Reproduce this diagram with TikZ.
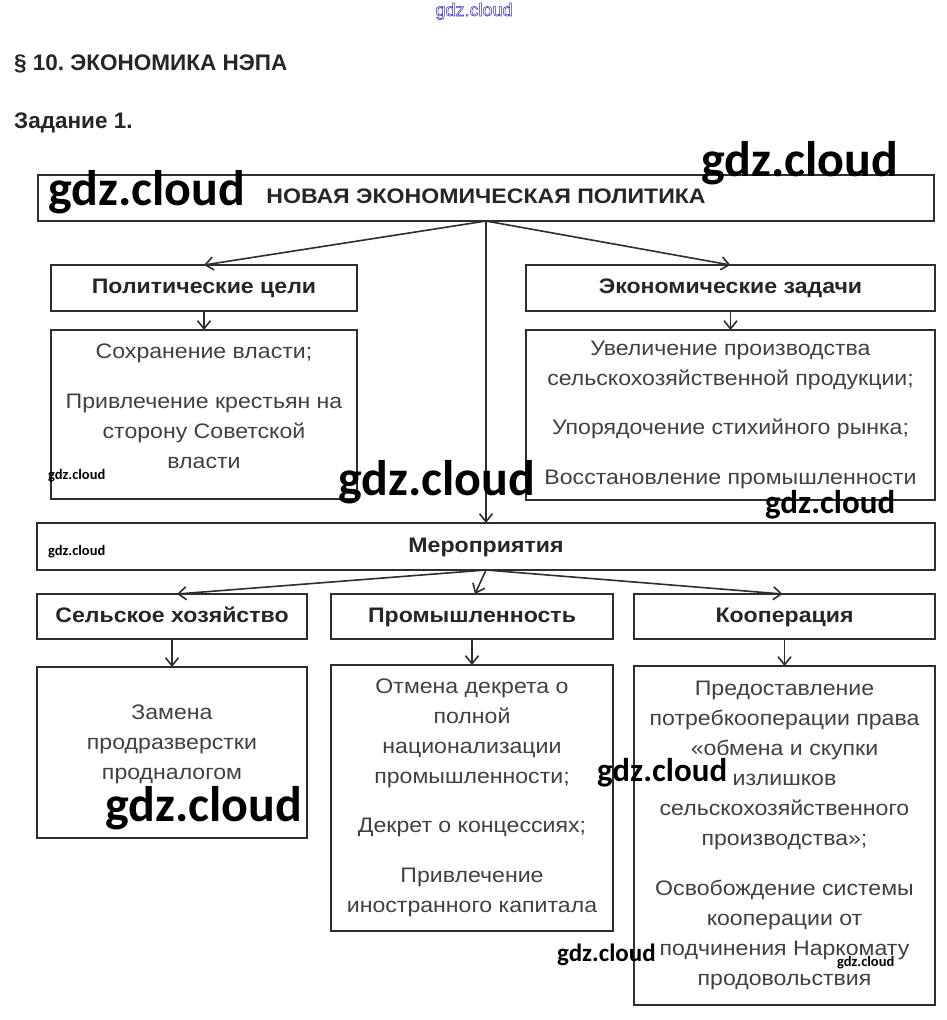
\documentclass[tikz,border=0pt]{standalone}
\usepackage{fontspec}
\setmainfont{Liberation Sans}[FakeStretch=1.1]
\newfontfamily\plainfont{Liberation Sans}
\newfontfamily\wmfont{Carlito}
\usetikzlibrary{arrows.meta}
\definecolor{linec}{HTML}{2E2E2E}
\definecolor{bodyc}{HTML}{404040}
\definecolor{headc}{HTML}{262626}
\definecolor{wmblue}{HTML}{3030D0}
\begin{document}
\begin{tikzpicture}[x=1pt,y=-1pt,
  box/.style={draw=linec, line width=1.9pt, inner sep=0pt, outer sep=0pt, align=center},
  headbox/.style={box, font=\bfseries\fontsize{21}{24}\selectfont, text=headc, text height=15pt, text depth=4pt},
  textbox/.style={box, font=\fontsize{21}{30}\selectfont, text=bodyc},
  bodytext/.style={inner sep=0pt, align=center, font=\fontsize{21}{30}\selectfont, text=bodyc},
  conn/.style={draw=linec, line width=1.6pt, -{Straight Barb[length=8pt,width=13pt,line width=1.6pt]}},
  wm/.style={font=\wmfont\bfseries\fontsize{#1}{#1}\selectfont, text=black, inner sep=0pt, anchor=base west},
  titletext/.style={font=\plainfont\bfseries\fontsize{22.5}{26}\selectfont, text=headc, inner sep=0pt, anchor=base west}]
\useasboundingbox[fill=white] (0,0) rectangle (947,1020);

% header texts
\node[font=\plainfont\fontsize{18}{18}\selectfont, text=wmblue, inner sep=0pt, anchor=base] (wmtop) at (474,16)
  {\special{pdf:code 1 Tr 0.5 w}gdz.cloud\special{pdf:code 0 Tr}};
\node[titletext] (title) at (14,70) {§ 10.\ ЭКОНОМИКА НЭПА};
\node[titletext] (task) at (14,128) {Задание 1.};

% boxes
\node[headbox, minimum width=896, minimum height=46] (nep) at (486,198) {НОВАЯ ЭКОНОМИЧЕСКАЯ ПОЛИТИКА};
\node[headbox, minimum width=306, minimum height=46] (pol) at (204,288) {Политические цели};
\node[headbox, minimum width=409, minimum height=46] (eco) at (730.5,288) {Экономические задачи};
\node[box, minimum width=306, minimum height=169] (polt) at (204,414.5) {};
\node[bodytext] (poltxt) at ([yshift=8pt]polt.center)
  {Сохранение власти;\\[20pt]Привлечение крестьян на\\сторону Советской\\власти};
\node[textbox, minimum width=409, minimum height=170] (ecot) at (730.5,415)
  {Увеличение производства\\сельскохозяйственной продукции;\\[19.5pt]Упорядочение стихийного рынка;\\[20pt]Восстановление промышленности};
\node[headbox, minimum width=898, minimum height=47] (mer) at (486,546.5) {Мероприятия};
\node[headbox, minimum width=270, minimum height=45] (sel) at (172,616.5) {Сельское хозяйство};
\node[headbox, minimum width=282, minimum height=45] (prom) at (472,616.5) {Промышленность};
\node[headbox, minimum width=301, minimum height=45] (koop) at (784.5,616.5) {Кооперация};
\node[box, minimum width=270, minimum height=171] (selt) at (172,752.5) {};
\node[bodytext] (seltxt) at ([yshift=8pt]selt.center)
  {Замена\\продразверстки\\продналогом};
\node[textbox, minimum width=282, minimum height=266] (promt) at (472,798)
  {Отмена декрета о\\полной\\национализации\\промышленности;\\[19.5pt]Декрет о концессиях;\\[20pt]Привлечение\\иностранного капитала};
\node[textbox, minimum width=301, minimum height=339] (koopt) at (784.5,835.5)
  {Предоставление\\потребкооперации права\\«обмена и скупки\\излишков\\сельскохозяйственного\\производства»;\\[19.5pt]Освобождение системы\\кооперации от\\подчинения Наркомату\\продовольствия};

% connectors
\draw[conn] (nep.south) -- (pol.north);
\draw[conn] (nep.south) -- (eco.north);
\draw[conn] (nep.south) -- (mer.north);
\draw[conn] (pol.south) -- (polt.north);
\draw[conn] (eco.south) -- (ecot.north);
\draw[conn] (mer.south) -- ([xshift=5pt]sel.north);
\draw[conn] (mer.south) -- ([xshift=3pt]prom.north);
\draw[conn] (mer.south) -- ([xshift=-2pt]koop.north);
\draw[conn] (sel.south) -- (selt.north);
\draw[conn] (prom.south) -- (promt.north);
\draw[conn] (koop.south) -- (koopt.north);

% watermarks
\node[wm=50] (wm1) at (48,205) {gdz.cloud};
\node[wm=50] (wm2) at (701,176) {gdz.cloud};
\node[wm=50] (wm3) at (338,495) {gdz.cloud};
\node[wm=50] (wm4) at (105,821) {gdz.cloud};
\node[wm=33] (wm5) at (765,513) {gdz.cloud};
\node[wm=33] (wm6) at (597,781) {gdz.cloud};
\node[wm=25] (wm7) at (557,961) {gdz.cloud};
\node[wm=14.5] (wm8) at (48,479) {gdz.cloud};
\node[wm=14.5] (wm9) at (48,555) {gdz.cloud};
\node[wm=14.5] (wm10) at (837,966) {gdz.cloud};
\end{tikzpicture}
\end{document}
